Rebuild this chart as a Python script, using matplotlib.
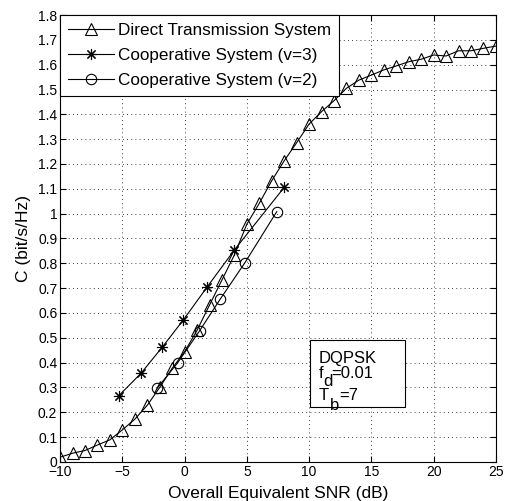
import numpy as np
import matplotlib
matplotlib.use("Agg")
import matplotlib.pyplot as plt
from matplotlib.patches import Rectangle

plt.rcParams['font.family'] = ['Liberation Sans', 'DejaVu Sans']

# Direct transmission system
snr_direct = [-10, -9, -8, -7, -6, -5, -4, -3, -2, -1, 0, 1, 2, 3, 4, 5, 6, 7, 8, 9,
              10, 11, 12, 13, 14, 15, 16, 17, 18, 19, 20, 21, 22, 23, 24, 25]
c_direct = [0.019, 0.035, 0.046, 0.068, 0.089, 0.129, 0.172, 0.228, 0.300, 0.377,
            0.444, 0.530, 0.632, 0.733, 0.834, 0.958, 1.042, 1.133, 1.213, 1.286,
            1.361, 1.411, 1.455, 1.505, 1.538, 1.558, 1.579, 1.595, 1.612, 1.622,
            1.639, 1.635, 1.656, 1.656, 1.666, 1.675]

# Cooperative system, v=3
snr_v3 = [-5.3, -3.5, -1.8, -0.1, 1.8, 4.0, 8.0]
c_v3 = [0.266, 0.357, 0.462, 0.572, 0.704, 0.854, 1.106]

# Cooperative system, v=2
snr_v2 = [-2.2, -0.55, 1.2, 2.85, 4.85, 7.4]
c_v2 = [0.297, 0.400, 0.528, 0.655, 0.803, 1.008]

x_ticks = [-10, -5, 0, 5, 10, 15, 20, 25]
x_ticklabels = ['\u221210', '\u22125', '0', '5', '10', '15', '20', '25']
y_ticklabels = ['0', '0.1', '0.2', '0.3', '0.4', '0.5', '0.6', '0.7', '0.8', '0.9',
                '1', '1.1', '1.2', '1.3', '1.4', '1.5', '1.6', '1.7', '1.8']

fig = plt.figure(figsize=(5.05, 5.01), dpi=100)
ax = fig.add_axes([0.119, 0.078, 0.863, 0.892])

mk = dict(color='black', lw=0.8, markerfacecolor='none', markeredgecolor='black',
          markeredgewidth=0.8)
ax.plot(snr_direct, c_direct, marker='^', ms=8.5, label='Direct Transmission System', **mk)
ax.plot(snr_v3, c_v3, marker=(8, 2, 0), ms=8, label='Cooperative System (v=3)', **mk)
ax.plot(snr_v2, c_v2, marker='o', ms=7.5, label='Cooperative System (v=2)', **mk)

ax.set_xlim(-10, 25)
ax.set_ylim(0, 1.8)
ax.set_xticks(x_ticks)
ax.set_xticklabels(x_ticklabels)
ax.set_yticks(np.linspace(0, 1.8, len(y_ticklabels)))
ax.set_yticklabels(y_ticklabels)
ax.tick_params(direction='in', labelsize=10, length=4, top=True, right=True, pad=2)
ax.grid(True, linestyle=(0, (1, 4)), color='black', lw=0.6)
for s in ax.spines.values():
    s.set_linewidth(0.8)

ax.set_xlabel('Overall Equivalent SNR (dB)', fontsize=12.5, labelpad=5)
ax.set_ylabel('C (bit/s/Hz)', fontsize=12.5, labelpad=5)

leg = ax.legend(loc='upper left', fontsize=12.3, borderaxespad=0, frameon=True,
                fancybox=False, handlelength=2.7, borderpad=0.45, labelspacing=0.6,
                handletextpad=0.25)
leg.get_frame().set_edgecolor('black')
leg.get_frame().set_linewidth(0.8)
leg.get_frame().set_alpha(1)

# annotation box with hand-placed subscripts
ax.add_patch(Rectangle((0.5734, 0.1237), 0.2179, 0.1492, transform=ax.transAxes,
                       facecolor='white', edgecolor='black', lw=0.8, zorder=5))
tx = 0.5925
box_txt = dict(xycoords='axes fraction', textcoords='offset points', fontsize=12,
               va='baseline', ha='left', zorder=6)
ax.annotate('DQPSK', (tx, 0.2215), xytext=(0, 0), **box_txt)
ax.annotate('f', (tx, 0.1886), xytext=(0, 0), **box_txt)
ax.annotate('d', (tx, 0.1886), xytext=(3.4, -6), **box_txt)
ax.annotate('=0.01', (tx, 0.1886), xytext=(9.6, 0), **box_txt)
ax.annotate('T', (tx, 0.1387), xytext=(0, 0), **box_txt)
ax.annotate('b', (tx, 0.1387), xytext=(8.2, -7), **box_txt)
ax.annotate('=7', (tx, 0.1387), xytext=(15, 0), **box_txt)

fig.savefig('out.png', dpi=100)
